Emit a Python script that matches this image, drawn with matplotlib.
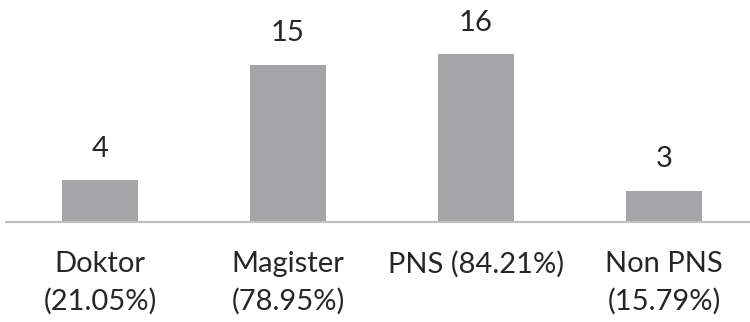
import matplotlib
matplotlib.use("Agg")
from matplotlib import pyplot as plt

categories = ["Doktor\n(21.05%)", "Magister\n(78.95%)", "PNS (84.21%)", "Non PNS\n(15.79%)"]
values = [4, 15, 16, 3]

bar_color = "#a5a5a7"
text_color = "#262626"

plt.rcParams["font.family"] = ["Lato", "DejaVu Sans"]

fig = plt.figure(figsize=(7.5, 3.22), dpi=100)
# axes: x from -0.5 to 3.5, baseline at 222 px from top
ax = fig.add_axes([6 / 750, 100 / 322, 752 / 750, 210 / 322])

x = range(len(values))
bars = ax.bar(x, values, width=0.4, color=bar_color)

for rect, v in zip(bars, values):
    ax.annotate(str(v), (rect.get_x() + rect.get_width() / 2, v),
                xytext=(0, 13), textcoords="offset points",
                ha="center", va="bottom", fontsize=21, color=text_color)

ax.set_xlim(-0.5, 3.5)
ax.set_ylim(0, 20)
ax.set_xticks(list(x))
ax.set_xticklabels(categories, fontsize=21, color=text_color, linespacing=1.5,
                   va="top")
ax.tick_params(axis="x", length=0, pad=21)
ax.set_yticks([])

for side in ["top", "right", "left"]:
    ax.spines[side].set_visible(False)
ax.spines["bottom"].set_color("#bfbfbf")
ax.spines["bottom"].set_linewidth(1.5)

fig.savefig("out.png", dpi=100)
